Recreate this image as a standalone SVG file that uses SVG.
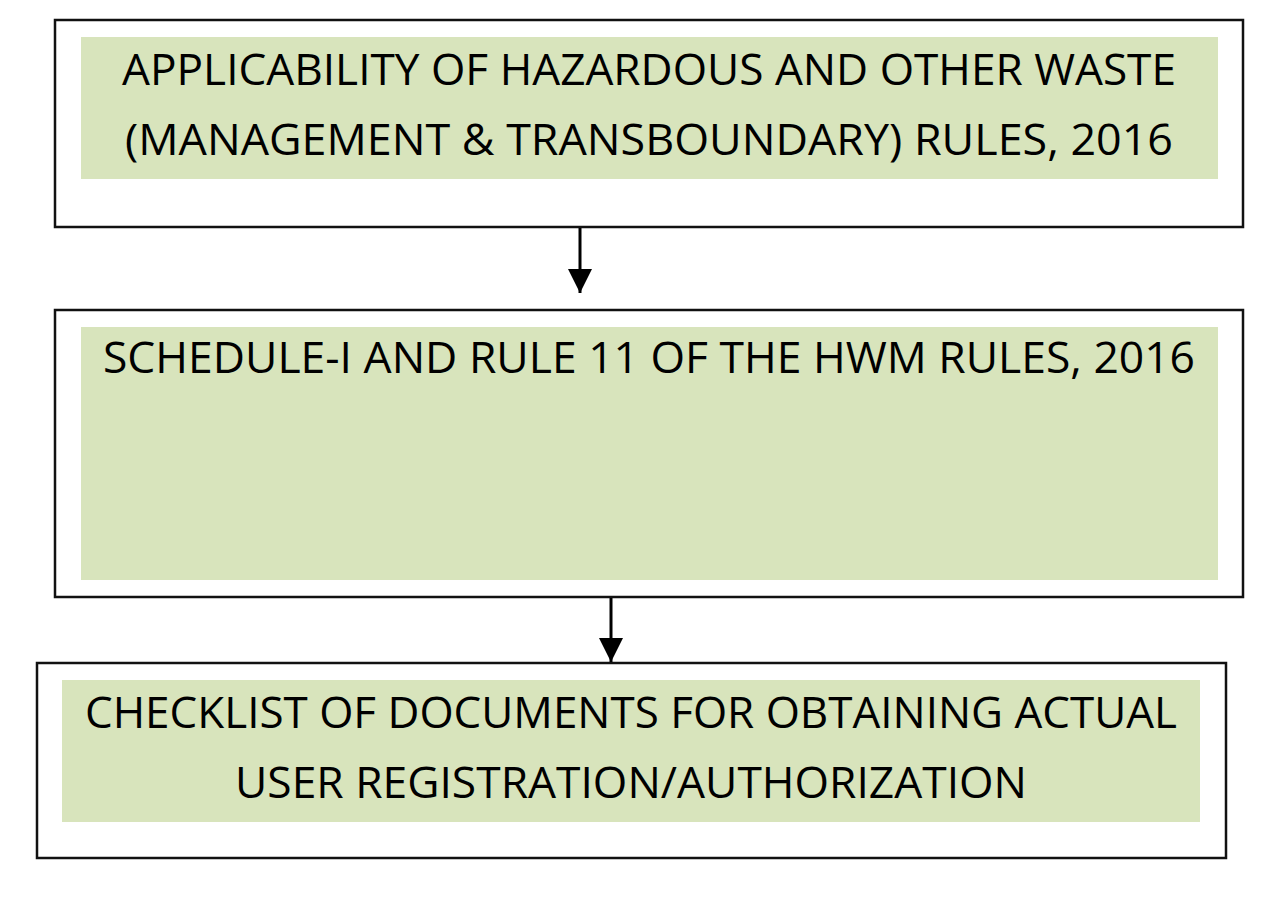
<svg xmlns="http://www.w3.org/2000/svg" width="1280" height="901" viewBox="0 0 1280 901">
<style>
.frame{fill:#ffffff;stroke:#111111;stroke-width:2.5}
.band{fill:#D8E4BC;stroke:none}
.lbl{font-family:"Open Sans","Liberation Sans",sans-serif;font-size:44px;fill:#000000}
.conn{stroke:#000000;stroke-width:3;fill:none}
</style>
<defs>
<marker id="ah" viewBox="0 0 24 24" refX="24" refY="12" markerWidth="24" markerHeight="24" markerUnits="userSpaceOnUse" orient="auto">
<path d="M0,0 L24,12 L0,24 Z" fill="#000000"/>
</marker>
</defs>
<rect width="1280" height="901" fill="#ffffff"/>
<g id="node-applicability">
<rect class="frame" x="55" y="20" width="1188" height="207"/>
<rect class="band" x="81" y="37" width="1137" height="142"/>
<text class="lbl" x="122" y="85" textLength="1054" lengthAdjust="spacingAndGlyphs">APPLICABILITY OF HAZARDOUS AND OTHER WASTE</text>
<text class="lbl" x="125" y="155" textLength="1048" lengthAdjust="spacingAndGlyphs">(MANAGEMENT &amp; TRANSBOUNDARY) RULES, 2016</text>
</g>
<g id="node-schedule">
<rect class="frame" x="55" y="310" width="1188" height="287"/>
<rect class="band" x="81" y="327" width="1137" height="253"/>
<text class="lbl" x="103" y="373" textLength="1092" lengthAdjust="spacingAndGlyphs">SCHEDULE-I AND RULE 11 OF THE HWM RULES, 2016</text>
</g>
<g id="node-checklist">
<rect class="frame" x="37" y="663" width="1189" height="195"/>
<rect class="band" x="62" y="680" width="1138" height="142"/>
<text class="lbl" x="85" y="728" textLength="1092" lengthAdjust="spacingAndGlyphs">CHECKLIST OF DOCUMENTS FOR OBTAINING ACTUAL</text>
<text class="lbl" x="235" y="798" textLength="792" lengthAdjust="spacingAndGlyphs">USER REGISTRATION/AUTHORIZATION</text>
</g>
<g id="connectors">
<line class="conn" x1="580" y1="228" x2="580" y2="293" marker-end="url(#ah)"/>
<line class="conn" x1="611" y1="598" x2="611" y2="662" marker-end="url(#ah)"/>
</g>
</svg>
